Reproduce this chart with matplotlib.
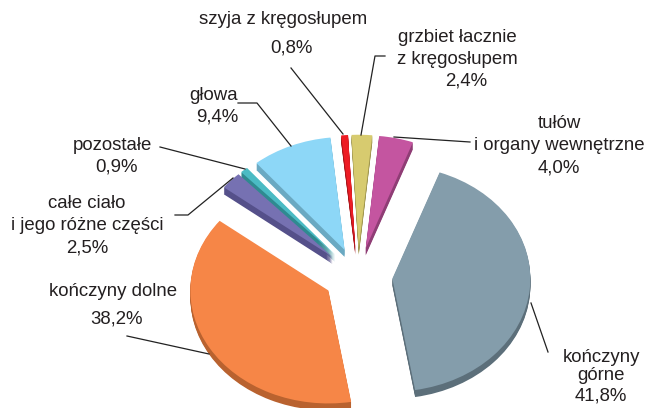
#!/usr/bin/env python3
import matplotlib
matplotlib.use("Agg")
import matplotlib.pyplot as plt
from matplotlib.lines import Line2D

W, H = 647, 408

# values, clockwise from the neck slice
names = ["szyja", "grzbiet", "tulow", "gorne", "dolne", "cialo", "pozostale", "glowa"]
values = [0.8, 2.4, 4.0, 41.8, 38.2, 2.5, 0.9, 9.4]
colors = ["#ED1C24", "#D7CB6F", "#C455A0", "#849DAB", "#F68647", "#7671B2", "#4BBBC4", "#8DD7F7"]
sides = ["#A81419", "#A09750", "#8F3D75", "#5C6F7A", "#B9622F", "#55508A", "#2F8A90", "#6AA9C2"]

# label text, centre x px, y px of each line
labels = [
    ("szyja z kręgosłupem", 283, 20),
    ("0,8%", 291, 48),
    ("grzbiet łacznie", 457, 37),
    ("z kręgosłupem", 457, 59),
    ("2,4%", 466, 81),
    ("tułów", 559, 124),
    ("i organy wewnętrzne", 559, 146),
    ("4,0%", 559, 168),
    ("kończyny", 601, 357),
    ("górne", 601, 376),
    ("41,8%", 601, 396),
    ("kończyny dolne", 113, 291),
    ("38,2%", 117, 319),
    ("całe ciało", 87, 204),
    ("i jego różne części", 87, 226),
    ("2,5%", 87, 248),
    ("pozostałe", 112, 145),
    ("0,9%", 116, 167),
    ("głowa", 214, 95),
    ("9,4%", 217, 117),
]

leaders = [
    [(291, 68), (343, 134)],
    [(385, 56), (375, 56), (361, 135)],
    [(470, 142), (394, 137)],
    [(548, 352), (531, 303)],
    [(127, 336), (209, 354)],
    [(175, 215), (188, 215), (233, 178)],
    [(160, 147), (245, 169)],
    [(238, 103), (257, 103), (291, 146)],
]

CX, CY = 358, 276
RX, RY = 138, 113
DEPTH = 7

plt.rcParams["font.family"] = ["Liberation Sans", "DejaVu Sans"]
fig = plt.figure(figsize=(W / 100, H / 100), dpi=100)
ax = fig.add_axes([0, 0, 1, 1])

explode = [0.25] * len(values)
# extruded rim: stacked darker pies, then the top face
for d in range(DEPTH, 0, -1):
    ax.pie(values, explode=explode, colors=sides, startangle=95.9, counterclock=False,
           center=(0, -d / RY), wedgeprops={"linewidth": 0}, normalize=True)
ax.pie(values, explode=explode, colors=colors, startangle=95.9, counterclock=False,
       wedgeprops={"linewidth": 0}, normalize=True)
ax.set_aspect("auto")
ax.set_xlim(-CX / RX, (W - CX) / RX)
ax.set_ylim((CY - H) / RY, CY / RY)
ax.axis("off")

for pts in leaders:
    xs = [p[0] / W for p in pts]
    ys = [1 - p[1] / H for p in pts]
    fig.add_artist(Line2D(xs, ys, color="#222222", lw=0.9))

for txt, x, y in labels:
    fig.text(x / W, 1 - y / H, txt, ha="center", va="center", fontsize=13.4, color="#231F20")

fig.savefig("out.png", dpi=100)
